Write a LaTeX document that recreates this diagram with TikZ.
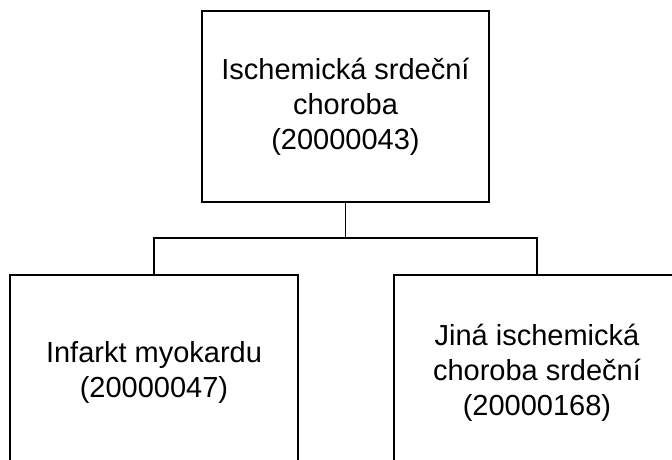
\documentclass[tikz,border=0pt]{standalone}
\usepackage{fontspec}
\setmainfont{Liberation Sans}
\begin{document}
\begin{tikzpicture}[x=1pt,y=1pt,
  box/.style={draw=black,line width=1.1pt,rectangle,align=center,inner sep=0pt,
    font=\fontsize{29}{35}\selectfont},
  conn/.style={draw=black,line width=1.1pt}]
\clip (0,0) rectangle (672,-460);
\node[box,minimum width=287,minimum height=191] (top) at (345.5,-106.5)
  {Ischemická srdeční\\choroba\\(20000043)};
\node[box,minimum width=288,minimum height=195] (l) at (154,-372.5)
  {Infarkt myokardu\\(20000047)};
\node[box,minimum width=286,minimum height=195] (r) at (537,-372.5)
  {Jiná ischemická\\choroba srdeční\\(20000168)};
\coordinate (j) at (345.5,-238);
\draw[conn] (top.south) -- (j);
\draw[conn] (j) -| (l.north);
\draw[conn] (j) -| (r.north);
\end{tikzpicture}
\end{document}
